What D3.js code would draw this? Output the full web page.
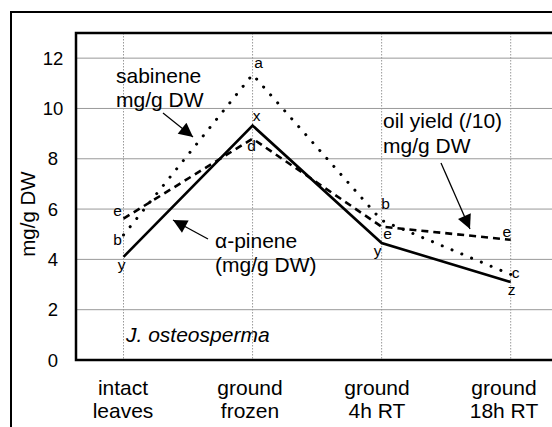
<!DOCTYPE html>
<html><head><meta charset="utf-8">
<script src="https://cdn.jsdelivr.net/npm/d3@7"></script>
<style>body{margin:0;background:#fff}svg{display:block}text{font-family:"Liberation Sans",Arial,sans-serif;fill:#000}</style>
</head><body>
<script>
const categories = ["intact|leaves","ground|frozen","ground|4h RT","ground|18h RT"];
const alphaPinene = [4.1, 9.32, 4.65, 3.1];
const sabinene = [4.97, 11.35, 5.55, 3.4];
const oilYield = [5.62, 8.8, 5.3, 4.78];
const alphaLetters = ["y","x","y","z"];
const sabLetters = ["b","a","b","c"];
const oilLetters = ["e","d","e","e"];
const yTicks = [0,2,4,6,8,10,12];

const W=552,H=427;
const svg=d3.select("body").append("svg").attr("width",W).attr("height",H);
const L=76,T=33,B=360,R=620;
const x=d3.scalePoint().domain(categories).range([123.5,510.7]);
const xl=d3.scalePoint().domain(categories).range([123,504]);
const y=d3.scaleLinear().domain([0,13]).range([B,T]);

// outer frame
svg.append("rect").attr("x",11).attr("y",12).attr("width",700).attr("height",600)
  .attr("fill","none").attr("stroke","#000").attr("stroke-width",2);

// grid
svg.append("g").selectAll("line").data(yTicks.filter(d=>d>0)).join("line")
  .attr("x1",L).attr("x2",R).attr("y1",d=>y(d)).attr("y2",d=>y(d))
  .attr("stroke","#999").attr("stroke-width",1);
svg.append("g").selectAll("line").data(categories).join("line")
  .attr("x1",d=>x(d)).attr("x2",d=>x(d)).attr("y1",T).attr("y2",B)
  .attr("stroke","#999").attr("stroke-width",1).attr("stroke-dasharray","1.5,1.5");

// plot frame
svg.append("rect").attr("x",L).attr("y",T).attr("width",R-L).attr("height",B-T)
  .attr("fill","none").attr("stroke","#000").attr("stroke-width",2.5);

// y ticks
svg.append("g").selectAll("text").data(yTicks).join("text")
  .attr("x",53).attr("y",d=>y(d)).attr("dy","0.36em").attr("text-anchor","middle")
  .style("font-size","18.5px").text(d=>d);
svg.append("text").attr("transform","translate(35,214) rotate(-90)").attr("text-anchor","middle")
  .style("font-size","20.5px").text("mg/g DW");

// x labels
const xg=svg.append("g").selectAll("text").data(categories).join("text")
  .attr("text-anchor","middle").style("font-size","21px");
xg.append("tspan").attr("x",d=>xl(d)).attr("y",395).text(d=>d.split("|")[0]);
xg.append("tspan").attr("x",d=>xl(d)).attr("y",418).text(d=>d.split("|")[1]);

const line=d3.line().x((d,i)=>x(categories[i])).y(d=>y(d));
svg.append("path").datum(sabinene).attr("d",line).attr("fill","none").attr("stroke","#000")
  .attr("stroke-width",3).attr("stroke-linecap","round").attr("stroke-dasharray","0.1,10.5");
svg.append("path").datum(oilYield).attr("d",line).attr("fill","none").attr("stroke","#000")
  .attr("stroke-width",2.6).attr("stroke-dasharray","7,5");
svg.append("path").datum(alphaPinene).attr("d",line).attr("fill","none").attr("stroke","#000")
  .attr("stroke-width",2.6);

// point letters
function letters(vals, lets, offs){
  svg.append("g").selectAll("text").data(vals).join("text")
    .attr("x",(d,i)=>x(categories[i])+offs[i][0]).attr("y",(d,i)=>y(d)+offs[i][1])
    .attr("text-anchor","middle").style("font-size","15.5px").text((d,i)=>lets[i]);
}
letters(sabinene, sabLetters, [[-6,10],[6,-7],[4,-11],[5,4]]);
letters(alphaPinene, alphaLetters, [[-2,13],[4,-5],[-4,13],[1,13]]);
letters(oilYield, oilLetters, [[-6,-3],[-1,12],[6,12],[-4,-3]]);

// annotations
function txt(xx,yy,lines,gap,style){
  const t=svg.append("text").style("font-size","21px").style("font-style",style||"normal");
  lines.forEach((s,i)=>t.append("tspan").attr("x",xx).attr("y",yy+i*gap).text(s));
}
txt(116,83,["sabinene","mg/g DW"],23.5);
txt(383,128,["oil yield (/10)","mg/g DW"],24.5);
txt(215,248,["α-pinene","(mg/g DW)"],23.5);
txt(126,342,["J. osteosperma"],0,"italic");

// arrows
svg.append("defs").append("marker").attr("id","ah").attr("viewBox","0 0 10 10")
  .attr("refX",10).attr("refY",5).attr("markerWidth",16).attr("markerHeight",14)
  .attr("markerUnits","userSpaceOnUse").attr("orient","auto")
  .append("path").attr("d","M0,0L10,5L0,10Z").attr("fill","#000");
const arrows=[[163,113,193,137],[208,239,173,220],[441,163,470,229]];
svg.append("g").selectAll("line").data(arrows).join("line")
  .attr("x1",d=>d[0]).attr("y1",d=>d[1]).attr("x2",d=>d[2]).attr("y2",d=>d[3])
  .attr("stroke","#000").attr("stroke-width",1.3).attr("marker-end","url(#ah)");
</script>
</body></html>
